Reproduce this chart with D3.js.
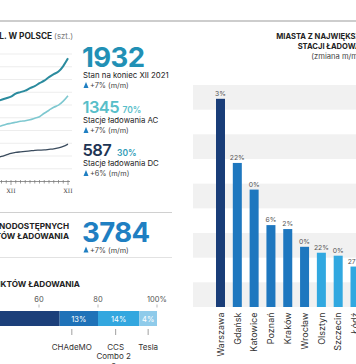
<!DOCTYPE html>
<html>
<head>
<meta charset="utf-8">
<script src="https://cdn.jsdelivr.net/npm/d3@7"></script>
<style>
html,body{margin:0;padding:0;background:#fff;overflow:hidden;}
svg{display:block;font-family:Inter,"Noto Sans",sans-serif;}
</style>
</head>
<body>
<svg id="c" width="356" height="364"></svg>
<script>
// ---- data ----
const months = ["IX","X","XI","XII","I","II","III","IV","V","VI","VII","VIII","IX","X","XI","XII"];
const monthTickLabels = {3:"XII",15:"XII"};
const totalStations = [1260,1283,1307,1331,1378,1402,1425,1465,1496,1543,1583,1638,1685,1724,1811,1932];
const acStations    = [850,874,898,913,929,945,953,969,992,1016,1071,1118,1165,1197,1260,1345];
const dcStations    = [378,394,417,441,457,465,472,480,488,492,496,504,512,528,551,587];

const connectorNames  = ["Typ 2","CHAdeMO","CCS Combo 2","Tesla"];
const connectorShares = [67,13,14,6];
const connectorLabels = ["","13%","14%","4%"];
const shareTicks = [0,20,40,60,80,100];

const cities      = ["Warszawa","Gdańsk","Katowice","Poznań","Kraków","Wrocław","Olsztyn","Szczecin","Łódź"];
const cityCounts  = [211,146,119,83,79,61,55,52,41];
const cityChanges = ["3%","22%","0%","6%","2%","0%","22%","0%","27%"];

const svg = d3.select("#c");
const dark = "#222";

// ---- top rule ----
svg.append("line").attr("x1",0).attr("x2",356).attr("y1",21).attr("y2",21)
  .attr("stroke","#bdbdbd").attr("stroke-width",1.5);

// ---- left title ----
const t1 = svg.append("text").attr("x",73).attr("y",39).attr("text-anchor","end")
  .attr("font-size",8.3).attr("fill",dark);
t1.append("tspan").attr("font-weight",700).text("STACJE ŁADOWANIA EL. W POLSCE ");
t1.append("tspan").attr("fill","#777").attr("font-size",7.8).text("(szt.)");

// ---- line chart ----
const xL = d3.scaleLinear().domain([0, months.length-1]).range([-3.25, 68]);
const yL = d3.scaleLinear().domain([0, 2000]).range([181.5, 54]);
const gL = svg.append("g");
gL.selectAll("line.g").data(d3.range(200,2001,200)).join("line")
  .attr("x1",-10).attr("x2",72).attr("y1",d=>yL(d)).attr("y2",d=>yL(d))
  .attr("stroke","#e8e8e8").attr("stroke-width",0.8);
const series = [
  {v:dcStations, c:"#3a4b5d", w:1.3},
  {v:acStations, c:"#7ec8d0", w:1.6},
  {v:totalStations, c:"#2b8b9e", w:2}
];
const line = d3.line().x((d,i)=>xL(i)).y(d=>yL(d)).curve(d3.curveMonotoneX);
series.forEach(s=>{
  gL.append("path").attr("d",line(s.v)).attr("fill","none")
    .attr("stroke",s.c).attr("stroke-width",s.w).attr("stroke-linejoin","round");
});
// x axis
gL.append("line").attr("x1",-10).attr("x2",70).attr("y1",181.5).attr("y2",181.5)
  .attr("stroke","#777").attr("stroke-width",0.8);
gL.selectAll("line.t").data(months).join("line")
  .attr("x1",(d,i)=>xL(i)).attr("x2",(d,i)=>xL(i))
  .attr("y1",180).attr("y2",(d,i)=>monthTickLabels[i]?185:183.5)
  .attr("stroke","#777").attr("stroke-width",0.7);
gL.selectAll("text.t").data(Object.keys(monthTickLabels)).join("text")
  .attr("x",d=>xL(+d)).attr("y",193).attr("text-anchor","middle")
  .attr("font-family","DejaVu Serif, serif").attr("font-size",6).attr("fill","#444")
  .text(d=>monthTickLabels[d]);

// ---- big numbers ----
function trend(y, txt){
  svg.append("path").attr("d",`M83.5,${y} L86,${y-6} L88.5,${y} Z`).attr("fill","#1f7fc2");
  svg.append("text").attr("x",90).attr("y",y).attr("font-size",7.3).attr("fill","#444").text(txt);
}
svg.append("text").attr("x",82).attr("y",67).attr("font-size",27.5).attr("font-weight",700)
  .attr("letter-spacing",-0.6).attr("fill","#2190b5").text("1932");
svg.append("text").attr("x",83).attr("y",77.5).attr("font-size",7.8).attr("fill",dark).text("Stan na koniec XII 2021");
trend(88,"+7% (m/m)");

svg.append("text").attr("x",82.5).attr("y",112.5).attr("font-size",16.5).attr("font-weight",600)
  .attr("letter-spacing",-0.6).attr("fill","#58bec9").text("1345");
svg.append("text").attr("x",122.5).attr("y",112.5).attr("font-size",8.5).attr("font-weight",600).attr("fill","#58bec9").text("70%");
svg.append("text").attr("x",83).attr("y",122.5).attr("font-size",7.8).attr("fill",dark).text("Stacje ładowania AC");
trend(133,"+7% (m/m)");

svg.append("text").attr("x",82.5).attr("y",155.5).attr("font-size",16.5).attr("font-weight",600)
  .attr("letter-spacing",-0.6).attr("fill","#1e3554").text("587");
svg.append("text").attr("x",117).attr("y",155.5).attr("font-size",8.5).attr("font-weight",600).attr("fill","#2f9bb6").text("30%");
svg.append("text").attr("x",83).attr("y",165.5).attr("font-size",7.8).attr("fill",dark).text("Stacje ładowania DC");
trend(176,"+6% (m/m)");

// ---- section 2 ----
svg.append("line").attr("x1",0).attr("x2",172).attr("y1",212.5).attr("y2",212.5)
  .attr("stroke","#d0d0d0").attr("stroke-width",1.2);
svg.append("text").attr("x",69).attr("y",228.5).attr("text-anchor","end").attr("font-size",8.2)
  .attr("font-weight",700).attr("fill",dark).text("LICZBA OGÓLNODOSTĘPNYCH");
svg.append("text").attr("x",69).attr("y",239).attr("text-anchor","end").attr("font-size",8.2)
  .attr("font-weight",700).attr("fill",dark).text("PUNKTÓW ŁADOWANIA");
svg.append("text").attr("x",82).attr("y",242).attr("font-size",27.5).attr("font-weight",700)
  .attr("letter-spacing",-0.6).attr("fill","#1f7fc2").text("3784");
trend(252.5,"+7% (m/m)");
svg.append("line").attr("x1",0).attr("x2",172).attr("y1",257.5).attr("y2",257.5)
  .attr("stroke","#e2e2e2").attr("stroke-width",1);

// ---- section 3: stacked bar ----
svg.append("text").attr("x",80).attr("y",287).attr("text-anchor","end").attr("font-size",8.2)
  .attr("font-weight",700).attr("fill",dark).text("RODZAJE PUNKTÓW ŁADOWANIA");
const xS = d3.scaleLinear().domain([0,100]).range([-138,157]);
svg.selectAll("text.st").data(shareTicks).join("text")
  .attr("x",d=>xS(d)).attr("y",302).attr("text-anchor","middle").attr("font-size",7.5).attr("fill","#555")
  .text(d=>d===100?"100%":d);
svg.selectAll("line.st").data(shareTicks).join("line")
  .attr("x1",d=>xS(d)).attr("x2",d=>xS(d)).attr("y1",304.5).attr("y2",307.5)
  .attr("stroke","#999").attr("stroke-width",0.7);
const segColors = ["#1c3f7a","#1f72b8","#33a7df","#8fcbea"];
let acc = 0;
const segs = connectorShares.map((v,i)=>{const s={i, x0:acc, x1:acc+v}; acc+=v; return s;});
svg.selectAll("rect.seg").data(segs).join("rect")
  .attr("x",d=>xS(d.x0)).attr("width",d=>xS(d.x1)-xS(d.x0)).attr("y",311).attr("height",15)
  .attr("fill",d=>segColors[d.i]);
svg.selectAll("text.seg").data(segs).join("text")
  .attr("x",d=>(xS(d.x0)+xS(d.x1))/2).attr("y",321.5).attr("text-anchor","middle")
  .attr("font-size",7.5).attr("fill","#fff").text(d=>connectorLabels[d.i]);
const nudge = [0,-7,-3,0];
const outer = segs.slice(1);
svg.selectAll("line.cn").data(outer).join("line")
  .attr("x1",d=>(xS(d.x0)+xS(d.x1))/2+nudge[d.i]).attr("x2",d=>(xS(d.x0)+xS(d.x1))/2+nudge[d.i])
  .attr("y1",329).attr("y2",335).attr("stroke","#777").attr("stroke-width",0.7);
outer.forEach(d=>{
  const cx = (xS(d.x0)+xS(d.x1))/2+nudge[d.i];
  const parts = connectorNames[d.i].split(" ");
  const t = svg.append("text").attr("text-anchor","middle").attr("font-size",8).attr("fill","#333");
  parts.forEach((p,k)=>{
    t.append("tspan").attr("x",cx - (k>0?2:0)).attr("y",350+k*9.3).text(p + (k===1&&parts.length>2?" "+parts.slice(2).join(" "):""));
  });
});

// ---- right chart ----
svg.append("text").attr("x",336).attr("y",39).attr("text-anchor","middle").attr("font-size",7.6)
  .attr("font-weight",700).attr("fill",dark).text("MIASTA Z NAJWIĘKSZĄ LICZBĄ");
svg.append("text").attr("x",336).attr("y",49).attr("text-anchor","middle").attr("font-size",7.6)
  .attr("font-weight",700).attr("fill",dark).text("STACJI ŁADOWANIA");
svg.append("text").attr("x",336).attr("y",59).attr("text-anchor","middle").attr("font-size",7.6)
  .attr("fill","#444").text("(zmiana m/m)");

const yR = d3.scaleLinear().domain([0,225]).range([307,85]);
const xR = d3.scalePoint().domain(cities).range([220.5, 355]);
svg.selectAll("rect.band").data(d3.range(0,225,50)).join("rect")
  .attr("x",193).attr("width",170).attr("y",d=>yR(d+25)).attr("height",d=>yR(d)-yR(d+25))
  .attr("fill","#f1f1f1");
const barColors = ["#193d78","#1e77bf","#1e77bf","#1e77bf","#1e77bf","#1e77bf","#31a8e0","#31a8e0","#31a8e0"];
svg.selectAll("rect.bar").data(cities).join("rect")
  .attr("x",d=>xR(d)-4.5).attr("width",9)
  .attr("y",(d,i)=>yR(cityCounts[i])).attr("height",(d,i)=>yR(0)-yR(cityCounts[i]))
  .attr("fill",(d,i)=>barColors[i]);
svg.selectAll("text.val").data(cities).join("text")
  .attr("x",d=>xR(d)).attr("y",(d,i)=>yR(cityCounts[i])-3).attr("text-anchor","middle")
  .attr("font-size",6.8).attr("fill","#555").text((d,i)=>cityChanges[i]);
svg.selectAll("text.city").data(cities).join("text")
  .attr("transform",d=>`translate(${xR(d)+3.2},${312.5}) rotate(-90)`).attr("text-anchor","end")
  .attr("font-size",9).attr("fill","#333").text(d=>d);
</script>
</body>
</html>
